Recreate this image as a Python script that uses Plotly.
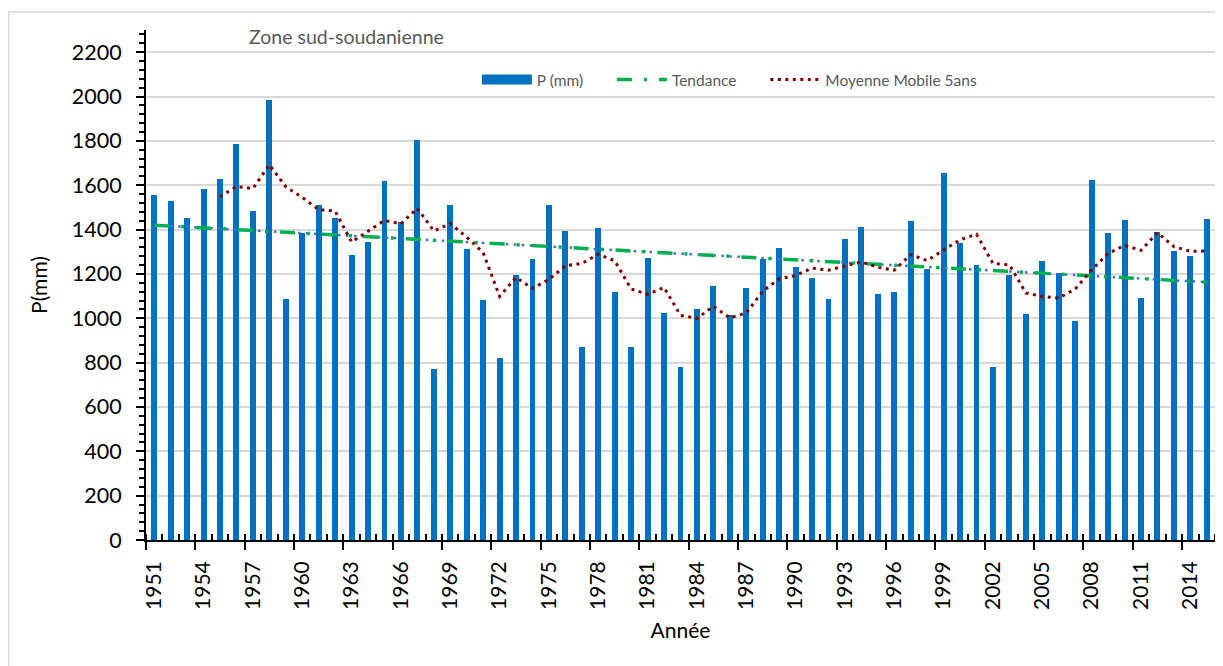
import plotly.graph_objects as go

# ---------------- data ----------------
years = list(range(1951, 2016))
precip = [1554, 1528, 1450, 1581, 1627, 1784, 1483, 1984, 1089, 1384,
          1510, 1450, 1285, 1342, 1620, 1432, 1803, 772, 1510, 1313,
          1082, 820, 1195, 1267, 1510, 1392, 869, 1408, 1117, 872,
          1273, 1026, 778, 1044, 1147, 1013, 1138, 1267, 1318, 1229,
          1180, 1089, 1358, 1413, 1108, 1117, 1438, 1222, 1654, 1339,
          1240, 778, 1196, 1017, 1258, 1204, 987, 1623, 1386, 1443,
          1091, 1389, 1304, 1283, 1447]

ma_years = list(range(1955, 2016))
ma_values = [1548, 1594, 1585, 1692, 1593, 1545, 1490, 1483, 1344, 1394,
             1441, 1426, 1496, 1394, 1427, 1366, 1296, 1099, 1184, 1135,
             1175, 1237, 1247, 1289, 1259, 1132, 1108, 1139, 1013, 999,
             1054, 1002, 1024, 1122, 1177, 1193, 1226, 1217, 1235, 1254,
             1230, 1217, 1287, 1260, 1308, 1354, 1379, 1247, 1241, 1114,
             1098, 1091, 1132, 1218, 1292, 1329, 1306, 1386, 1323, 1302,
             1303]

trend_years = [1951, 2015]
trend_values = [1420, 1163]

tick_years = [1951, 1954, 1957, 1960, 1963, 1966, 1969, 1972, 1975, 1978,
              1981, 1984, 1987, 1990, 1993, 1996, 1999, 2002, 2005, 2008,
              2011, 2014]
tick_text = [str(y) for y in tick_years]
y_ticks = [0, 200, 400, 600, 800, 1000, 1200, 1400, 1600, 1800, 2000, 2200]

FONT = "Lato"
GREY_TXT = "#595959"
PAD = "\u00a0" * 6  # extra spacing between legend entries

fig = go.Figure()

fig.add_trace(go.Bar(
    x=years, y=precip, width=0.36, name="P (mm)",
    marker=dict(color="#0070C0", line=dict(width=0)),
    legendgroup="p", showlegend=False,
))
# legend swatch for bars (wide rectangle as in the original)
fig.add_trace(go.Scatter(
    x=[None], y=[None], mode="lines", name="P (mm)" + PAD, legendgroup="p",
    line=dict(color="#0070C0", width=11), hoverinfo="skip",
))
# trend line (blue dotted underlay from spreadsheet trendline)
fig.add_trace(go.Scatter(
    x=trend_years, y=trend_values, mode="lines", showlegend=False,
    line=dict(color="#4472C4", width=2.5, dash="2.5px,5.5px"),
    hoverinfo="skip",
))
fig.add_trace(go.Scatter(
    x=trend_years, y=trend_values, mode="lines", name="Tendance" + PAD,
    line=dict(color="#00B050", width=3.5, dash="15px,12px,3px,12px"),
))
fig.add_trace(go.Scatter(
    x=ma_years, y=ma_values, mode="lines", name="Moyenne Mobile 5ans",
    line=dict(color="#800000", width=3, dash="3px,4.5px"),
))

x_range = [years[0] - 0.5, years[-1] + 0.5]
major_bounds = [y - 0.5 for y in tick_years]
minor_bounds = [y - 0.5 for y in years] + [years[-1] + 0.5]

# the page body adds an 8px offset, so the figure is 8px smaller
fig.update_layout(
    width=1215, height=658,
    margin=dict(l=138, r=8, t=22, b=126, autoexpand=False),
    paper_bgcolor="white", plot_bgcolor="white",
    font=dict(family=FONT, size=20, color="black"),
    bargap=0,
    legend=dict(
        orientation="h", x=0.3095, y=0.902, xanchor="left", yanchor="middle",
        font=dict(family=FONT, size=15.5, color=GREY_TXT),
        bgcolor="rgba(0,0,0,0)", itemwidth=50,
        traceorder="normal",
    ),
    xaxis=dict(
        range=x_range, showgrid=False, zeroline=False, automargin=False,
        showline=True, linecolor="black", linewidth=2,
        tickvals=major_bounds, ticks="outside", ticklen=8, tickwidth=2,
        tickcolor="black", showticklabels=False,
        minor=dict(tickvals=minor_bounds, ticks="inside", ticklen=6,
                   tickwidth=1.5, tickcolor="black", showgrid=False),
    ),
    xaxis2=dict(
        overlaying="x", anchor="y", side="bottom", range=x_range,
        showgrid=False, zeroline=False, showline=False, automargin=False,
        tickvals=tick_years, ticktext=tick_text, tickangle=-90,
        ticks="", ticklabelstandoff=16,
        tickfont=dict(family=FONT, size=21, color="black"),
        title=dict(text="Année", standoff=14,
                   font=dict(family=FONT, size=21, color="black")),
    ),
    yaxis=dict(
        range=[0, 2300], tickvals=y_ticks, showgrid=True, automargin=False,
        gridcolor="#D9D9D9", gridwidth=1.5, zeroline=False,
        showline=True, linecolor="black", linewidth=2,
        ticks="outside", ticklen=8, tickwidth=2, tickcolor="black",
        ticklabelstandoff=10,
        tickfont=dict(family=FONT, size=21.5, color="black"),
        minor=dict(dtick=40, tick0=0, ticks="outside", ticklen=5,
                   tickwidth=1.5, tickcolor="black", showgrid=False),
        title=dict(text="P(mm)", standoff=18,
                   font=dict(family=FONT, size=21, color="black")),
    ),
    annotations=[dict(
        text="Zone sud-soudanienne", xref="paper", yref="paper",
        x=0.0945, y=0.988, xanchor="left", yanchor="middle",
        showarrow=False, font=dict(family=FONT, size=19.5, color=GREY_TXT),
    )],
    shapes=[dict(
        type="rect", xref="paper", yref="paper",
        x0=-0.1285, x1=1.05, y0=-0.5, y1=1.036,
        line=dict(color="#D9D9D9", width=1.5), layer="below",
    )],
)

# empty trace to activate xaxis2
fig.add_trace(go.Scatter(x=[None], y=[None], xaxis="x2", showlegend=False,
                         hoverinfo="skip"))

fig.write_html("out.html")
